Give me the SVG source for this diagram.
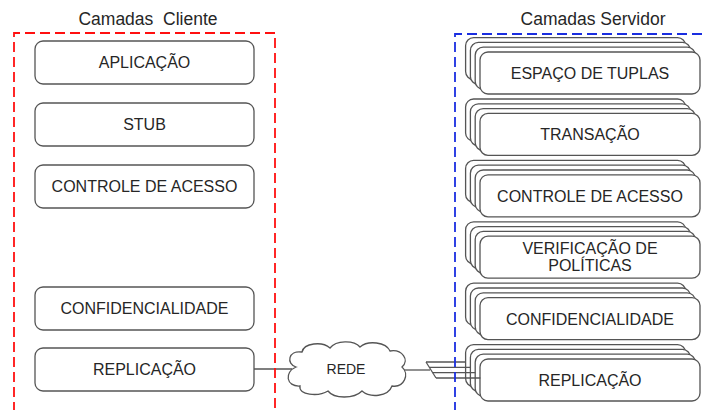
<svg xmlns="http://www.w3.org/2000/svg" xmlns:xlink="http://www.w3.org/1999/xlink" width="707" height="410" viewBox="0 0 707 410">
<style>
.box{fill:#fff;stroke:#555;stroke-width:1.3}
.lbl{font-family:"Liberation Sans",Arial,sans-serif;font-size:16px;fill:#262626;text-anchor:middle}
.ttl{font-family:"Liberation Sans",Arial,sans-serif;font-size:17.5px;fill:#262626;text-anchor:middle}
.conn{fill:none;stroke:#555;stroke-width:1.3}
.red{fill:none;stroke:#ff1010;stroke-width:1.8;stroke-dasharray:10 5}
.blue{fill:none;stroke:#1a2ee0;stroke-width:1.8;stroke-dasharray:10 5}
</style>
<defs>
<g id="layers">
<rect class="box" x="-14.4" y="-14.4" width="220" height="42" rx="8"/>
<rect class="box" x="-9.6" y="-9.6" width="220" height="42" rx="8"/>
<rect class="box" x="-4.8" y="-4.8" width="220" height="42" rx="8"/>
<rect class="box" x="0" y="0" width="220" height="42" rx="8"/>
</g>
</defs>
<rect width="707" height="410" fill="#fff"/>
<text class="ttl" x="148" y="25" xml:space="preserve">Camadas  Cliente</text>
<text class="ttl" x="593" y="25">Camadas Servidor</text>

<g id="connectors">
<line class="conn" x1="254" y1="369" x2="292" y2="369"/>
<line class="conn" x1="404" y1="370" x2="430" y2="370"/>
<line class="conn" x1="426" y1="362" x2="436" y2="378"/>
</g>

<g id="client-aplicacao"><rect class="box" x="35" y="41" width="219" height="43" rx="8"/><text class="lbl" x="144.5" y="68">APLICAÇÃO</text></g>
<g id="client-stub"><rect class="box" x="35" y="103" width="219" height="43" rx="8"/><text class="lbl" x="144.5" y="130">STUB</text></g>
<g id="client-controle"><rect class="box" x="35" y="165" width="219" height="43" rx="8"/><text class="lbl" x="144.5" y="192">CONTROLE DE ACESSO</text></g>
<g id="client-confidencialidade"><rect class="box" x="35" y="287" width="219" height="43" rx="8"/><text class="lbl" x="144.5" y="314">CONFIDENCIALIDADE</text></g>
<g id="client-replicacao"><rect class="box" x="35" y="348" width="219" height="43" rx="8"/><text class="lbl" x="144.5" y="375">REPLICAÇÃO</text></g>

<g id="rede">
<path class="box" d="M 296 367 C 286 364, 288 350, 302 352 C 304 343, 322 341, 330 348 C 336 340, 354 340, 360 347 C 368 340, 386 342, 390 351 C 402 349, 410 360, 402 367 C 410 374, 404 388, 392 386 C 388 397, 370 398, 362 391 C 354 399, 334 399, 328 391 C 318 397, 298 395, 300 386 C 286 387, 284 372, 296 367 Z"/>
<text class="lbl" x="346" y="374" style="font-size:14px">REDE</text>
</g>

<g id="server-espaco"><use xlink:href="#layers" transform="translate(480,52)"/><text class="lbl" x="590" y="79">ESPAÇO DE TUPLAS</text></g>
<g id="server-transacao"><use xlink:href="#layers" transform="translate(480,113.4)"/><text class="lbl" x="590" y="140.4">TRANSAÇÃO</text></g>
<g id="server-controle"><use xlink:href="#layers" transform="translate(480,174.8)"/><text class="lbl" x="590" y="201.8">CONTROLE DE ACESSO</text></g>
<g id="server-verificacao"><use xlink:href="#layers" transform="translate(480,236.2)"/><text class="lbl" x="590" y="254">VERIFICAÇÃO DE</text><text class="lbl" x="590" y="271">POLÍTICAS</text></g>
<g id="server-confidencialidade"><use xlink:href="#layers" transform="translate(480,297.6)"/><text class="lbl" x="590" y="324.6">CONFIDENCIALIDADE</text></g>
<g id="server-replicacao"><use xlink:href="#layers" transform="translate(480,359)"/><text class="lbl" x="590" y="386">REPLICAÇÃO</text></g>

<g id="fan-lines">
<line class="conn" x1="426" y1="362" x2="466" y2="362"/>
<line class="conn" x1="429.3" y1="367.3" x2="470.6" y2="367.3"/>
<line class="conn" x1="432.6" y1="372.6" x2="475.4" y2="372.6"/>
<line class="conn" x1="436" y1="378" x2="480.4" y2="378"/>
</g>

<g id="cliente-layer"><path class="red" d="M 14 412 V 33 H 275 V 412"/></g>
<g id="servidor-layer"><path class="blue" d="M 455 412 V 34 H 710"/></g>
</svg>
